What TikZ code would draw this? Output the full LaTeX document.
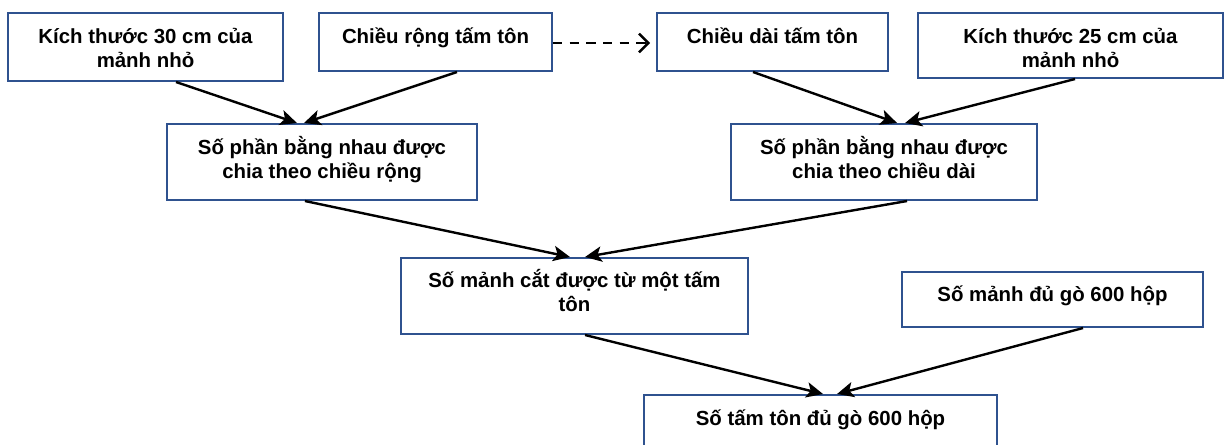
\documentclass[tikz,border=0pt]{standalone}
\usepackage{fontspec}
\setmainfont{Liberation Sans}
\usetikzlibrary{arrows.meta,fit}
\definecolor{boxblue}{RGB}{47,82,143}
\begin{document}
\begin{tikzpicture}[x=0.75pt,y=-0.75pt,
  box/.style={draw=boxblue,line width=1.5pt,inner sep=0pt,fill=none},
  lbl/.style={anchor=base,align=center,inner sep=0pt,
    font=\fontsize{15.3pt}{17.8pt}\selectfont\bfseries},
  arr/.style={line width=1.8pt,-{Stealth[length=12.5pt,width=11.5pt,inset=3pt]}},
  darr/.style={line width=1.8pt,dash pattern=on 7pt off 5.5pt,
    -{Straight Barb[length=7pt,width=14pt,line width=1.8pt]}}]
\useasboundingbox (0,0) rectangle (1224,444);
\clip (0,0) rectangle (1224,444);
% boxes
\node[box,fit={(8,13) (283,81)}] (A) {};
\node[box,fit={(319,13) (552,71)}] (B) {};
\node[box,fit={(657,13) (888,71)}] (C) {};
\node[box,fit={(918,13) (1223,78)}] (D) {};
\node[box,fit={(167,124) (477,200)}] (E) {};
\node[box,fit={(731,124) (1037,200)}] (F) {};
\node[box,fit={(401,258) (748,334)}] (G) {};
\node[box,fit={(902,272) (1203,327)}] (I) {};
\node[box,fit={(644,395) (997,470)}] (H) {};
% texts (base anchor = baseline of the last line)
\node[lbl] (tA) at (145.5,67.5) {Kích thước 30 cm của\\mảnh nhỏ};
\node[lbl] (tB) at (435.5,43) {Chiều rộng tấm tôn};
\node[lbl] (tC) at (772.5,43) {Chiều dài tấm tôn};
\node[lbl] (tD) at (1070.5,67.5) {Kích thước 25 cm của\\mảnh nhỏ};
\node[lbl] (tE) at (322,178.5) {Số phần bằng nhau được\\chia theo chiều rộng};
\node[lbl] (tF) at (884,178.5) {Số phần bằng nhau được\\chia theo chiều dài};
\node[lbl] (tG) at (574.5,311.5) {Số mảnh cắt được từ một tấm\\tôn};
\node[lbl] (tI) at (1052.5,301) {Số mảnh đủ gò 600 hộp};
\node[lbl] (tH) at (820.5,425) {Số tấm tôn đủ gò 600 hộp};
% connectors
\draw[darr,shorten >=4.5pt] ([yshift=-0.75pt]B.east) -- ([yshift=-0.75pt]C.west);
\draw[arr] ([xshift=22.9pt]A.south) -- ([xshift=-18.8pt]E.north);
\draw[arr] ([xshift=16.1pt]B.south) -- ([xshift=-13.5pt]E.north);
\draw[arr] ([xshift=-14.6pt]C.south) -- ([xshift=9.8pt]F.north);
\draw[arr] ([xshift=3.4pt]D.south) -- ([xshift=15.8pt]F.north);
\draw[arr] ([xshift=-12.8pt]E.south) -- ([xshift=-3.4pt]G.north);
\draw[arr] ([xshift=17.3pt]F.south) -- ([xshift=7.9pt]G.north);
\draw[arr] ([xshift=7.9pt]G.south) -- ([xshift=1.9pt]H.north);
\draw[arr] ([xshift=22.9pt]I.south) -- ([xshift=12.4pt]H.north);
\end{tikzpicture}
\end{document}
